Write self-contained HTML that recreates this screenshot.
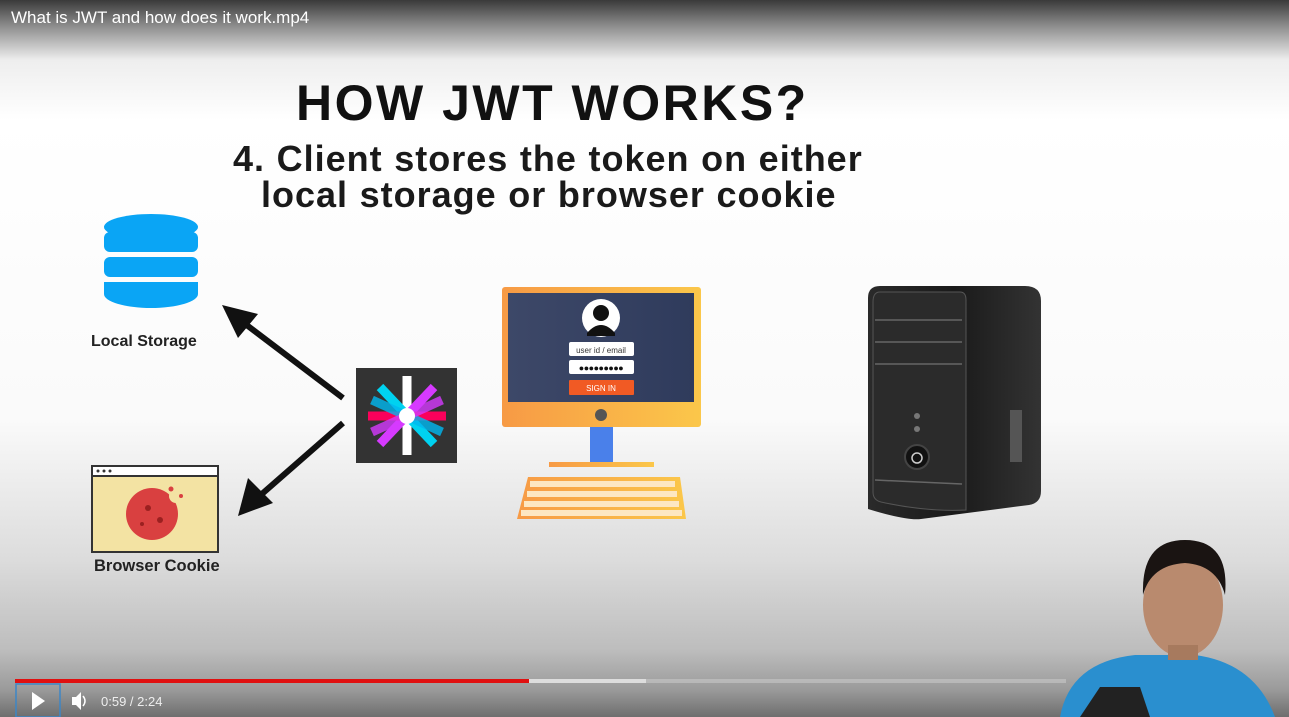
<!DOCTYPE html>
<html><head><meta charset="utf-8"><style>
html,body{margin:0;padding:0}
body{width:1289px;height:717px;overflow:hidden;position:relative;font-family:"Liberation Sans",sans-serif;
background:linear-gradient(to bottom,#3a3a3a 0px,#8a8a8a 25px,#eeeeee 60px,#ffffff 120px,#fafafa 420px,#dcdcdc 560px,#bdbdbd 650px,#9a9a9a 690px,#6e6e6e 717px);}
.t{position:absolute;white-space:nowrap;font-weight:bold;color:#111}
</style></head><body>
<div style="position:absolute;left:11px;top:8px;color:#fff;font-size:17px">What is JWT and how does it work.mp4</div>
<div class="t" style="left:296px;top:74px;font-size:50px;letter-spacing:2.5px">HOW JWT WORKS?</div>
<div class="t" style="left:233px;top:138px;font-size:36px;color:#1a1a1a;letter-spacing:1px;word-spacing:.6px">4. Client stores the token on either</div>
<div class="t" style="left:261px;top:174px;font-size:36px;color:#1a1a1a;letter-spacing:1px;word-spacing:.6px">local storage or browser cookie</div>
<div class="t" style="left:91px;top:333px;font-size:16px;color:#222">Local Storage</div>
<div class="t" style="left:94px;top:557px;font-size:16.5px;color:#222">Browser Cookie</div>
<svg width="1289" height="717" style="position:absolute;left:0;top:0">
<g fill="#0aa5f5">
<ellipse cx="151" cy="227" rx="47" ry="13"/>
<rect x="104" y="232" width="94" height="20" rx="6"/>
<rect x="104" y="257" width="94" height="20" rx="6"/>
<path d="M104 282 h94 v12 a47 14 0 0 1 -94 0z"/>
</g>
<g stroke="#111" stroke-width="6" fill="#111">
<line x1="343" y1="398" x2="240" y2="320"/>
<line x1="343" y1="423" x2="255" y2="500"/>
</g>
<polygon points="222,305 258,314 238,338" fill="#111"/>
<polygon points="238,516 248,478 273,503" fill="#111"/>
<rect x="92" y="466" width="126" height="86" fill="#f3e3a3" stroke="#333" stroke-width="2"/>
<rect x="92" y="466" width="126" height="10" fill="#fff" stroke="#333" stroke-width="2"/>
<circle cx="98" cy="471" r="1.5" fill="#333"/><circle cx="104" cy="471" r="1.5" fill="#333"/><circle cx="110" cy="471" r="1.5" fill="#333"/>
<circle cx="152" cy="514" r="26" fill="#d94040"/>
<circle cx="148" cy="508" r="3" fill="#9b2020"/><circle cx="160" cy="520" r="3" fill="#9b2020"/><circle cx="142" cy="524" r="2" fill="#9b2020"/>
<circle cx="176" cy="496" r="7" fill="#f3e3a3"/>
<circle cx="171" cy="489" r="2.5" fill="#d94040"/><circle cx="181" cy="496" r="2" fill="#d94040"/>
<rect x="356" y="368" width="101" height="95" fill="#333"/>
<g stroke-width="9" stroke-linecap="butt">
<line x1="407" y1="376" x2="407" y2="455" stroke="#fff"/>
<line x1="380" y1="387" x2="434" y2="444" stroke="#00d2f0"/>
<line x1="434" y1="387" x2="380" y2="444" stroke="#d63aff"/>
<line x1="368" y1="416" x2="446" y2="416" stroke="#fb015b"/>
<line x1="372" y1="400" x2="442" y2="432" stroke="#00b9f1" opacity=".8"/>
<line x1="442" y1="400" x2="372" y2="432" stroke="#d63aff" opacity=".8"/>
</g>
<circle cx="407" cy="416" r="8" fill="#fff"/>
<defs><linearGradient id="og" x1="0" x2="1"><stop offset="0" stop-color="#f79a45"/><stop offset="1" stop-color="#fbc74a"/></linearGradient>
<linearGradient id="sc" x1="0" x2="1"><stop offset="0" stop-color="#3d4868"/><stop offset="1" stop-color="#2f3b5c"/></linearGradient>
<linearGradient id="pc" x1="0" x2="1"><stop offset="0" stop-color="#2a2a2a"/><stop offset=".5" stop-color="#1a1a1a"/><stop offset="1" stop-color="#333"/></linearGradient></defs>
<rect x="502" y="287" width="199" height="140" rx="3" fill="url(#og)"/>
<rect x="508" y="293" width="186" height="109" fill="url(#sc)"/>
<circle cx="601" cy="318" r="19" fill="#fff"/>
<circle cx="601" cy="313" r="8" fill="#111"/>
<path d="M587 333 q14 -16 28 0 v3 h-28z" fill="#111"/>
<rect x="569" y="342" width="65" height="14" rx="2" fill="#fff"/>
<text x="601" y="353" font-size="8" text-anchor="middle" font-family="Liberation Sans" fill="#333">user id / email</text>
<rect x="569" y="360" width="65" height="14" rx="2" fill="#fff"/>
<text x="601" y="371" font-size="9" text-anchor="middle" fill="#111" letter-spacing="-.5">●●●●●●●●●</text>
<rect x="569" y="380" width="65" height="15" rx="1" fill="#f15a24"/>
<text x="601" y="391" font-size="8" text-anchor="middle" font-family="Liberation Sans" fill="#fff">SIGN IN</text>
<circle cx="601" cy="415" r="6" fill="#555"/>
<rect x="590" y="427" width="23" height="35" fill="#4a80ea"/>
<rect x="549" y="462" width="105" height="5" fill="url(#og)"/>
<polygon points="528,477 680,477 686,519 517,519" fill="url(#og)"/>
<g fill="#fde7c2">
<rect x="530" y="481" width="145" height="6"/><rect x="527" y="491" width="150" height="6"/><rect x="524" y="501" width="155" height="6"/><rect x="521" y="510" width="161" height="6"/>
</g>
<path d="M868 298 q0 -12 12 -12 h145 q16 0 16 15 v190 q0 12 -12 14 l-108 14 q-14 2 -53 -10z" fill="url(#pc)"/>
<path d="M880 292 h80 q6 0 6 8 v210 q-40 2 -85 -8 q-8 -2 -8 -10 v-190 q0 -10 7 -10z" fill="#2b2b2b" stroke="#555" stroke-width="1"/>
<g stroke="#666" stroke-width="1.5"><line x1="875" y1="320" x2="962" y2="320"/><line x1="875" y1="342" x2="962" y2="342"/><line x1="875" y1="364" x2="962" y2="364"/><line x1="875" y1="480" x2="962" y2="484"/></g>
<circle cx="917" cy="416" r="3" fill="#777"/><circle cx="917" cy="429" r="3" fill="#777"/>
<circle cx="917" cy="457" r="12" fill="#111" stroke="#444" stroke-width="2"/>
<circle cx="917" cy="458" r="5" fill="none" stroke="#ccc" stroke-width="1.5"/>
<rect x="1010" y="410" width="12" height="52" fill="#555"/>
<path d="M1060 717 q10 -55 75 -62 h60 q60 8 80 62z" fill="#2a8fcf"/>
<ellipse cx="1183" cy="605" rx="40" ry="52" fill="#b98a6e"/>
<path d="M1143 595 q-2 -55 42 -55 q45 0 40 55 q-8 -30 -40 -32 q-34 2 -42 32z" fill="#1a1412"/>
<rect x="1168" y="645" width="30" height="15" fill="#a77a5e"/>
<path d="M1080 717 l20 -30 h40 l10 30z" fill="#222"/>
<rect x="15" y="679" width="514" height="4" fill="#e01010"/>
<rect x="529" y="679" width="117" height="4" fill="#ddd"/>
<rect x="646" y="679" width="420" height="4" fill="#c8c8c8" opacity=".6"/>
<rect x="16" y="684" width="44" height="33" fill="none" stroke="#3d86c6" stroke-width="1.5"/>
<polygon points="32,692 45,701 32,710" fill="#fff"/>
<path d="M72 697 h4 l5 -5 v18 l-5 -5 h-4z" fill="#fff"/>
<path d="M83 696 q4 5 0 10" stroke="#fff" stroke-width="1.5" fill="none"/>
<text x="101" y="706" font-size="13" fill="#eee" font-family="Liberation Sans">0:59 / 2:24</text>
</svg>
</body></html>
